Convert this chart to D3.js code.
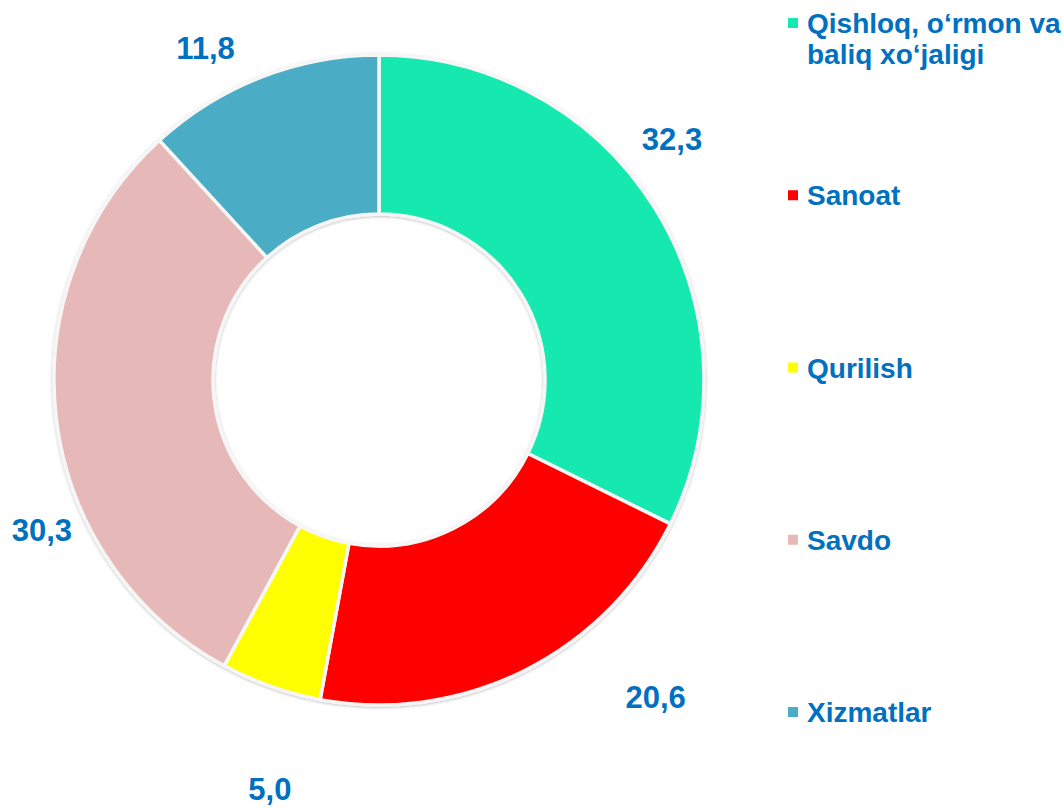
<!DOCTYPE html>
<html>
<head>
<meta charset="utf-8">
<script src="https://cdn.jsdelivr.net/npm/d3@7"></script>
<style>
  body { margin: 0; background: #fff; }
  text { font-family: "Liberation Sans", Arial, sans-serif; font-weight: bold; }
</style>
</head>
<body>
<div id="chart"></div>
<script>
// data
var categories = ["Qishloq, o\u2018rmon va|baliq xo\u2018jaligi", "Sanoat", "Qurilish", "Savdo", "Xizmatlar"];
var values = [32.3, 20.6, 5.0, 30.3, 11.8];
var valueLabels = ["32,3", "20,6", "5,0", "30,3", "11,8"];
var colors = ["#15E9B0", "#FF0000", "#FFFF00", "#E6B8B7", "#4BACC6"];

var svgWidth = 1064;
var svgHeight = 808;

var cx = 379, cy = 380;
var outerR = 325, innerR = 166;

// hand placed label nudges (as in the original layout)
var labelNudge = [[-34, -37], [104, -27], [19, 46], [45, 103], [-34, 27]];

var svg = d3.select("#chart")
  .append("svg")
  .attr("width", svgWidth)
  .attr("height", svgHeight);

var defs = svg.append("defs");
var shadow = defs.append("filter")
  .attr("id", "shadow")
  .attr("x", "-10%").attr("y", "-10%")
  .attr("width", "120%").attr("height", "120%");
shadow.append("feDropShadow")
  .attr("dx", 0).attr("dy", 1)
  .attr("stdDeviation", 1.5)
  .attr("flood-color", "#000")
  .attr("flood-opacity", 0.25);

var chartGroup = svg.append("g")
  .attr("transform", `translate(${cx}, ${cy})`);

var pie = d3.pie()
  .sort(null)
  .value(d => d);

var arcs = pie(values);

var arc = d3.arc()
  .innerRadius(innerR)
  .outerRadius(outerR);

chartGroup.append("g")
  .attr("filter", "url(#shadow)")
  .selectAll("path")
  .data(arcs)
  .enter()
  .append("path")
  .attr("d", arc)
  .attr("fill", (d, i) => colors[i])
  .attr("stroke", "#f6f6f6")
  .attr("stroke-width", 3.5)
  .attr("stroke-linejoin", "round");

// value labels
var labelArc = d3.arc()
  .innerRadius(385)
  .outerRadius(385);

chartGroup.selectAll(".val")
  .data(arcs)
  .enter()
  .append("text")
  .attr("class", "val")
  .attr("x", (d, i) => labelArc.centroid(d)[0] + labelNudge[i][0])
  .attr("y", (d, i) => labelArc.centroid(d)[1] + labelNudge[i][1])
  .attr("text-anchor", "middle")
  .attr("dominant-baseline", "central")
  .attr("font-size", "31px")
  .attr("fill", "#0070C0")
  .text((d, i) => valueLabels[i]);

// legend
var legendY = d3.scalePoint()
  .domain(categories)
  .range([23, 712]);

var legend = svg.append("g")
  .selectAll("g")
  .data(categories)
  .enter()
  .append("g")
  .attr("transform", d => `translate(788, ${legendY(d)})`);

legend.append("rect")
  .attr("x", 0)
  .attr("y", -5)
  .attr("width", 10)
  .attr("height", 10)
  .attr("fill", (d, i) => colors[i]);

legend.append("text")
  .attr("x", 19)
  .attr("y", 10)
  .attr("font-size", "28px")
  .attr("fill", "#0070C0")
  .selectAll("tspan")
  .data(d => d.split("|"))
  .enter()
  .append("tspan")
  .attr("x", 19)
  .attr("dy", (d, i) => i === 0 ? 0 : 31)
  .text(d => d);
</script>
</body>
</html>
